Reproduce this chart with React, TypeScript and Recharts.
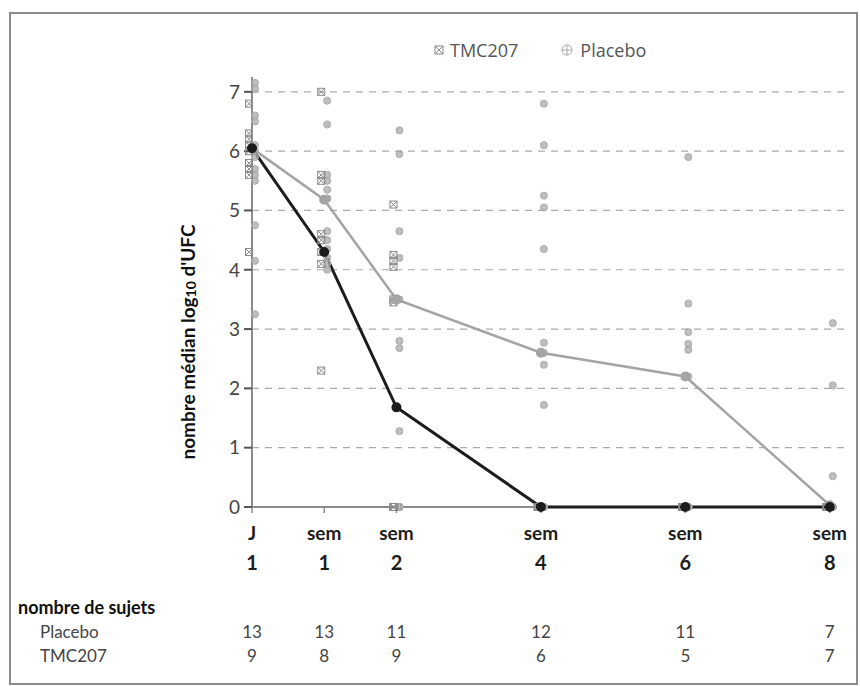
import { ComposedChart, Line, Scatter, XAxis, YAxis, CartesianGrid } from "recharts";

const FONT = "Lato, 'Open Sans', sans-serif";
const DARK = "#1c1c1c";
const AXIS = "#8c8c8c";
const GREY_LINE = "#a4a4a4";
const GREY_PT = "#9c9c9c";

// visits, in weeks (J1 = week 0)
const weeks = [0, 1, 2, 4, 6, 8];
const tickTop = ["J", "sem", "sem", "sem", "sem", "sem"];
const tickBottom = ["1", "1", "2", "4", "6", "8"];
const placeboCounts = [13, 13, 11, 12, 11, 7];
const tmcCounts = [9, 8, 9, 6, 5, 7];

// median log10 CFU
const tmcMedian = [6.05, 4.3, 1.68, 0, 0, 0];
const placeboMedian = [6.05, 5.18, 3.5, 2.6, 2.2, 0.03];

// individual subjects, one list per visit
const tmcValues = [
  [6.8, 6.3, 6.2, 6.1, 6.0, 5.8, 5.7, 5.6, 4.3],
  [7.0, 5.6, 5.5, 4.6, 4.5, 4.3, 4.1, 2.3],
  [5.1, 4.25, 4.15, 4.05, 3.5, 3.45, 0, 0, 0],
  [0, 0, 0, 0, 0, 0],
  [0, 0, 0, 0, 0],
  [0, 0, 0, 0, 0, 0, 0],
];
const placeboValues = [
  [7.15, 7.05, 6.6, 6.5, 6.1, 6.0, 5.9, 5.7, 5.6, 5.5, 4.75, 4.15, 3.25],
  [6.85, 6.45, 5.6, 5.5, 5.35, 5.2, 5.2, 4.65, 4.5, 4.35, 4.2, 4.1, 4.0],
  [6.35, 5.95, 4.65, 4.2, 3.5, 2.8, 2.68, 1.28, 0, 0, 0],
  [6.8, 6.1, 5.25, 5.05, 4.35, 2.77, 2.6, 2.4, 1.72, 0, 0, 0],
  [5.9, 3.43, 2.95, 2.75, 2.65, 2.2, 0, 0, 0, 0, 0],
  [3.1, 2.05, 0.52, 0, 0, 0, 0],
];

const yTicks = [0, 1, 2, 3, 4, 5, 6, 7];
const yDomain = [0, 7.25];
const xDomain = [0, 8.28];

const tmcLine = weeks.map((w, i) => ({ x: w, y: tmcMedian[i] }));
const placeboLine = weeks.map((w, i) => ({ x: w, y: placeboMedian[i] }));
const tmcPts = weeks.flatMap((w, i) => tmcValues[i].map((v) => ({ x: w, y: v })));
const placeboPts = weeks.flatMap((w, i) => placeboValues[i].map((v) => ({ x: w, y: v })));
// x axis baseline, drawn as a series so the black median line can sit on top of it
const baseline = [weeks[0], weeks[weeks.length - 1] + 0.06].map((x) => ({ x, y: 0 }));

const SquareX = (p: any) => {
  const s = 7;
  const x = p.cx - 3;
  const y = p.cy;
  return (
    <g stroke="#8a8a8a" strokeWidth={1} fill="none">
      <rect x={x - s / 2} y={y - s / 2} width={s} height={s} />
      <line x1={x - s / 2} y1={y - s / 2} x2={x + s / 2} y2={y + s / 2} />
      <line x1={x - s / 2} y1={y + s / 2} x2={x + s / 2} y2={y - s / 2} />
    </g>
  );
};

const CirclePlus = (p: any) => {
  const r = 3.6;
  const x = p.cx + 3;
  const y = p.cy;
  return (
    <g>
      <circle cx={x} cy={y} r={r} fill={GREY_PT} fillOpacity={0.7} stroke="#a8a8a8" strokeWidth={0.8} />
      <line x1={x - r} y1={y} x2={x + r} y2={y} stroke="#c8c8c8" strokeWidth={0.6} />
      <line x1={x} y1={y - r} x2={x} y2={y + r} stroke="#c8c8c8" strokeWidth={0.6} />
    </g>
  );
};

const XTick = (props: any) => {
  const { x, y, payload, index } = props;
  const i = weeks.indexOf(payload.value);
  if (i < 0) return null;
  return (
    <g fontFamily={FONT}>
      <text x={x} y={y + 25} textAnchor="middle" fontSize={19} fontWeight={700} fill={DARK}>
        {tickTop[i]}
      </text>
      <text x={x} y={y + 55} textAnchor="middle" fontSize={20} fontWeight={700} fill={DARK}>
        {tickBottom[i]}
      </text>
      <text x={x} y={y + 123} textAnchor="middle" fontSize={17} fill="#444">
        {placeboCounts[i]}
      </text>
      <text x={x} y={y + 147} textAnchor="middle" fontSize={17} fill="#444">
        {tmcCounts[i]}
      </text>
      {index === 0 && (
        <g>
          <text x={18} y={y + 99} fontSize={18} fontWeight={700} fill="#111">
            nombre de sujets
          </text>
          <text x={40} y={y + 123} fontSize={17} fill="#444">
            Placebo
          </text>
          <text x={40} y={y + 147} fontSize={17} fill="#444">
            TMC207
          </text>
        </g>
      )}
    </g>
  );
};

const YLabel = (props: any) => {
  const vb = props.viewBox || { x: 182, y: 77, height: 430 };
  const cx = vb.x + 5;
  const cy = vb.y + vb.height / 2 + 50;
  return (
    <text
      x={cx}
      y={cy}
      transform={`rotate(-90 ${cx} ${cy})`}
      textAnchor="middle"
      dominantBaseline="central"
      fontFamily={FONT}
      fontSize={19}
      fontWeight={700}
      fill="#111"
    >
      nombre médian log
      <tspan fontSize={14} dy={3}>10</tspan>
      <tspan dy={-3}> d'UFC</tspan>
    </text>
  );
};

const Legend = () => (
  <div
    style={{
      position: "absolute",
      top: 37,
      left: 432,
      display: "flex",
      alignItems: "center",
      fontFamily: "'Open Sans', sans-serif",
      fontSize: 18,
      color: "#555",
      lineHeight: "26px",
    }}
  >
    <svg width={14} height={14} style={{ marginRight: 4 }}>
      <g stroke="#8a8a8a" strokeWidth={1} fill="none">
        <rect x={3} y={3} width={8} height={8} />
        <line x1={3} y1={3} x2={11} y2={11} />
        <line x1={3} y1={11} x2={11} y2={3} />
      </g>
    </svg>
    <span>TMC207</span>
    <svg width={14} height={14} style={{ marginLeft: 42, marginRight: 6 }}>
      <circle cx={7} cy={7} r={5} fill="none" stroke="#a8a8a8" strokeWidth={1} />
      <line x1={2} y1={7} x2={12} y2={7} stroke="#a8a8a8" strokeWidth={1} />
      <line x1={7} y1={2} x2={7} y2={12} stroke="#a8a8a8" strokeWidth={1} />
    </svg>
    <span>Placebo</span>
  </div>
);

// dashed rows at the y ticks, skipping 0 (the axis) and the top edge of the plot
const gridRows = ({ offset }: any) =>
  yTicks
    .filter((t) => t > 0)
    .map((t) => offset.top + offset.height * (1 - (t - yDomain[0]) / (yDomain[1] - yDomain[0])));

export default function App() {
  return (
    <div style={{ position: "absolute", left: 0, top: 0, width: 860, height: 686, background: "#fff" }}>
      <div
        style={{
          position: "absolute",
          left: 9,
          top: 12,
          width: 845,
          height: 669,
          border: "2px solid #8c8c8c",
        }}
      />
      <Legend />
      <div style={{ position: "absolute", left: 0, top: 0 }}>
        <ComposedChart width={860} height={686} margin={{ top: 77, right: 10, left: 182, bottom: 139 }}>
          <CartesianGrid
            vertical={false}
            stroke="#aaa"
            strokeDasharray="7 6"
            strokeWidth={1.2}
            horizontalCoordinatesGenerator={gridRows}
          />
          <XAxis
            dataKey="x"
            type="number"
            domain={xDomain}
            ticks={weeks}
            height={40}
            interval={0}
            axisLine={false}
            tickLine={{ stroke: AXIS, strokeWidth: 1.5 }}
            tickSize={6}
            tick={<XTick />}
          />
          <YAxis
            dataKey="y"
            type="number"
            domain={yDomain}
            ticks={yTicks}
            width={70}
            interval={0}
            axisLine={{ stroke: AXIS, strokeWidth: 2 }}
            tickLine={{ stroke: "#555", strokeWidth: 2 }}
            tickSize={8}
            tickMargin={4}
            tick={{ fill: "#444", fontSize: 19, fontFamily: FONT }}
            label={<YLabel />}
          />
          <Line
            data={baseline}
            dataKey="y"
            type="linear"
            stroke={AXIS}
            strokeWidth={2}
            dot={false}
            activeDot={false}
            isAnimationActive={false}
          />
          <Scatter data={placeboPts} shape={<CirclePlus />} isAnimationActive={false} />
          <Scatter data={tmcPts} shape={<SquareX />} isAnimationActive={false} />
          <Line
            data={placeboLine}
            dataKey="y"
            type="linear"
            stroke={GREY_LINE}
            strokeWidth={2.5}
            dot={{ r: 3.8, fill: GREY_LINE, stroke: GREY_LINE }}
            isAnimationActive={false}
          />
          <Line
            data={tmcLine}
            dataKey="y"
            type="linear"
            stroke={DARK}
            strokeWidth={3}
            dot={{ r: 3.5, fill: DARK, stroke: DARK }}
            isAnimationActive={false}
          />
        </ComposedChart>
      </div>
    </div>
  );
}
